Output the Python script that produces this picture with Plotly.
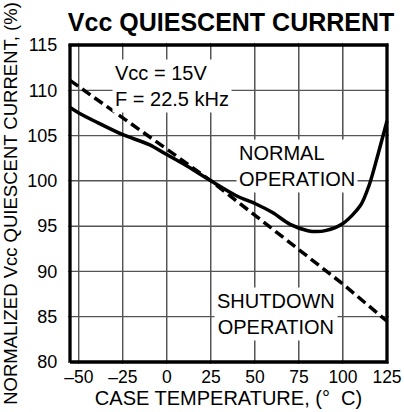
import plotly.graph_objects as go

# Data
normal_temp = [-55, -50, -40, -25, -10, 0, 10, 25, 40, 50, 60, 70, 80, 85, 90, 100, 110, 115, 120, 125]
normal_val = [108.1, 107.5, 106.5, 105.1, 104.0, 102.9, 101.8, 100.0, 98.3, 97.5, 96.5, 95.2, 94.5, 94.4, 94.5, 95.3, 97.3, 99.6, 103.0, 106.6]

shutdown_temp = [-55, -25, 0, 25, 50, 75, 100, 125]
shutdown_val = [111.1, 107.0, 103.5, 100.0, 96.2, 92.4, 88.6, 84.5]

x_ticks = [-50, -25, 0, 25, 50, 75, 100, 125]
x_ticktext = ["\u201350", "\u201325", "0", "25", "50", "75", "100", "125"]
y_ticks = [80, 85, 90, 95, 100, 105, 110, 115]

X_LIM = [-55, 125]
Y_LIM = [80, 115]

FONT = "Liberation Sans, Arial, Helvetica, sans-serif"
GRID = "#555555"

pad_x = (X_LIM[1] - X_LIM[0]) / 317 * 2
pad_y = (Y_LIM[1] - Y_LIM[0]) / 317 * 2
X_VIEW = [X_LIM[0] - pad_x, X_LIM[1] + pad_x]
Y_VIEW = [Y_LIM[0] - pad_y, Y_LIM[1] + pad_y]

# grid built from the tick lists, each line split into short segments
def vline_pts(v, n=8):
    ys = [Y_LIM[0] + (Y_LIM[1] - Y_LIM[0]) * i / n for i in range(n + 1)]
    return [v] * len(ys), ys

def hline_pts(v, n=8):
    xs = [X_LIM[0] + (X_LIM[1] - X_LIM[0]) * i / n for i in range(n + 1)]
    return xs, [v] * len(xs)

gx, gy = [], []
for v in x_ticks:
    xs, ys = vline_pts(v)
    gx += xs + [None]
    gy += ys + [None]
for v in y_ticks:
    xs, ys = hline_pts(v)
    gx += xs + [None]
    gy += ys + [None]

fig = go.Figure()
fig.add_trace(go.Scatter(x=gx, y=gy, mode="lines", connectgaps=False,
                         line=dict(color=GRID, width=1.2, simplify=False),
                         showlegend=False, hoverinfo="skip"))

fig.add_trace(go.Scatter(x=normal_temp, y=normal_val, mode="lines",
                         line=dict(color="black", width=3.5, shape="spline", smoothing=0.8),
                         showlegend=False, hoverinfo="skip"))
fig.add_trace(go.Scatter(x=shutdown_temp, y=shutdown_val, mode="lines",
                         line=dict(color="black", width=3.5, dash="10px,5px"),
                         showlegend=False, hoverinfo="skip"))

# plot frame (spline shape so the path is drawn with curve commands)
fig.add_trace(go.Scatter(x=[X_LIM[0], X_LIM[1], X_LIM[1], X_LIM[0], X_LIM[0]],
                         y=[Y_LIM[0], Y_LIM[0], Y_LIM[1], Y_LIM[1], Y_LIM[0]],
                         mode="lines", line=dict(color="black", width=3.3, simplify=False),
                         showlegend=False, hoverinfo="skip"))

fig.add_annotation(x=-31, y=113.4, xref="x", yref="y", xanchor="left", yanchor="top",
                   text="Vcc = 15V<br>F = 22.5 kHz", showarrow=False, align="left",
                   bgcolor="white", font=dict(size=20, color="black", family=FONT), borderpad=2)
fig.add_annotation(x=39.5, y=101.6, xref="x", yref="y", xanchor="left", yanchor="middle",
                   text="NORMAL<br>OPERATION", showarrow=False, align="left",
                   bgcolor="white", font=dict(size=20, color="black", family=FONT), borderpad=2)
fig.add_annotation(x=62, y=85.3, xref="x", yref="y", xanchor="center", yanchor="middle",
                   text="SHUTDOWN<br>OPERATION", showarrow=False, align="center",
                   bgcolor="white", font=dict(size=20, color="black", family=FONT), borderpad=2)

fig.update_layout(
    template="none",
    width=404, height=412,
    margin=dict(l=68, r=15, t=43, b=48, autoexpand=False),
    paper_bgcolor="white", plot_bgcolor="white",
    font=dict(family=FONT, color="black", size=17),
    title=dict(text="<b>Vcc QUIESCENT CURRENT</b>", x=0.572, xanchor="center", y=0.945, yanchor="middle",
               font=dict(size=25, family=FONT, color="black")),
    xaxis=dict(range=X_VIEW, tickvals=x_ticks, ticktext=x_ticktext,
               showgrid=True, gridcolor=GRID, gridwidth=1,
               showline=False, zeroline=False, ticks="",
               tickfont=dict(size=17.5), automargin=False,
               title=dict(text="CASE TEMPERATURE, (\u00b0  C)", standoff=0, font=dict(size=20))),
    yaxis=dict(range=Y_VIEW, tickvals=y_ticks,
               showgrid=True, gridcolor=GRID, gridwidth=1,
               showline=False, zeroline=False,
               ticks="outside", ticklen=6, tickcolor="rgba(0,0,0,0)",
               tickfont=dict(size=18), automargin=False,
               title=dict(text="NORMALIZED Vcc QUIESCENT CURRENT, (%)", standoff=4, font=dict(size=18.5))),
)

fig.write_html("out.html", config={"displayModeBar": False, "staticPlot": True},
               post_script="document.body.style.margin='0';document.body.style.overflow='hidden';")
